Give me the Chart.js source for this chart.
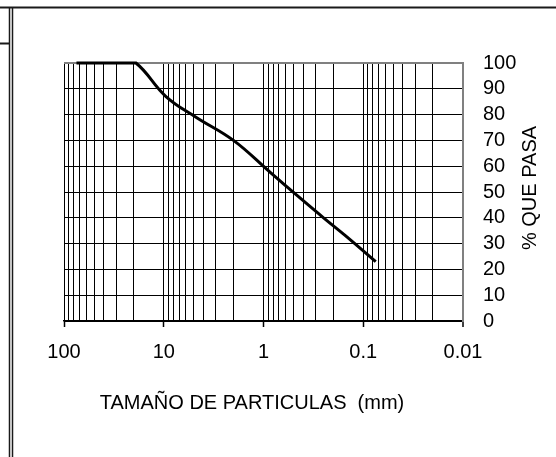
<!DOCTYPE html>
<html>
<head>
<meta charset="utf-8">
<script src="https://cdn.jsdelivr.net/npm/chart.js@4"></script>
<style>
  html, body { margin: 0; padding: 0; background: #fff; }
  #wrap { width: 556px; height: 457px; position: relative; }
</style>
</head>
<body>
<div id="wrap"><canvas id="chart" width="556" height="457"></canvas></div>
<script>
// grain size (mm) and percent passing
const SIZE_MM = [75, 50, 37.5, 25, 19, 9.5, 4.75, 2, 0.85, 0.425, 0.25, 0.15, 0.075];
const PCT_PASA = [100, 100, 100, 100, 100, 87, 79, 70, 57.5, 47.5, 40, 33, 23];

// log gridlines and the labelled decades
const X_TICKS = [
  0.01, 0.02, 0.03, 0.04, 0.05, 0.06, 0.07, 0.08, 0.09,
  0.1, 0.2, 0.3, 0.4, 0.5, 0.6, 0.7, 0.8, 0.9,
  1, 2, 3, 4, 5, 6, 7, 8, 9,
  10, 20, 30, 40, 50, 60, 70, 80, 90,
  100
];
const X_LABELS = ["0.01", "0.1", "1", "10", "100"];
const Y_TICKS = [0, 10, 20, 30, 40, 50, 60, 70, 80, 90, 100];

const X_TITLE = "TAMAÑO DE PARTICULAS  (mm)";
const Y_TITLE = "% QUE PASA";

const FONT = "Arial, 'Liberation Sans', sans-serif";
const GREY = "#808080";

Chart.defaults.font.family = FONT;
Chart.defaults.font.size = 20;
Chart.defaults.color = "#000";

function isDecade(value) {
  return X_LABELS.includes(String(value));
}

const framePlugin = {
  id: "frame",
  beforeDraw(chart) {
    const ctx = chart.ctx;
    ctx.save();
    ctx.fillStyle = "#fff";
    ctx.fillRect(0, 0, chart.width, chart.height);
    ctx.strokeStyle = "#1a1a1a";
    ctx.lineWidth = 2;
    ctx.beginPath();
    ctx.moveTo(0, 7.5);
    ctx.lineTo(chart.width, 7.5);
    ctx.moveTo(0, 43.5);
    ctx.lineTo(9, 43.5);
    ctx.stroke();
    ctx.lineWidth = 1.5;
    ctx.beginPath();
    ctx.moveTo(9.5, 7);
    ctx.lineTo(9.5, chart.height);
    ctx.moveTo(12.5, 7);
    ctx.lineTo(12.5, chart.height);
    ctx.stroke();
    ctx.restore();
  },
  afterDraw(chart) {
    const ctx = chart.ctx;
    ctx.save();
    ctx.fillStyle = "#000";
    ctx.font = "20px " + FONT;
    ctx.textAlign = "center";
    ctx.textBaseline = "middle";
    ctx.fillText(X_TITLE, 252, 403);
    ctx.translate(530, 188);
    ctx.rotate(-Math.PI / 2);
    ctx.fillText(Y_TITLE, 0, 0);
    ctx.restore();
  }
};

new Chart(document.getElementById("chart"), {
  type: "line",
  data: {
    datasets: [
      {
        data: SIZE_MM.map((d, i) => ({ x: d, y: PCT_PASA[i] })),
        borderColor: "#000",
        borderWidth: 3,
        pointRadius: 0,
        tension: 0.4,
        fill: false,
        clip: false
      }
    ]
  },
  options: {
    responsive: false,
    animation: false,
    events: [],
    layout: { padding: { left: 64, top: 63, right: 0, bottom: 0 } },
    plugins: {
      legend: { display: false },
      tooltip: { enabled: false }
    },
    scales: {
      x: {
        type: "logarithmic",
        reverse: true,
        min: 0.01,
        max: 100,
        afterBuildTicks(scale) {
          scale.ticks = X_TICKS.map((v) => ({ value: v, major: isDecade(v) }));
        },
        afterFit(scale) {
          scale.height = 457 - 321;
        },
        ticks: {
          autoSkip: false,
          maxRotation: 0,
          padding: 13,
          callback: (value) => (isDecade(value) ? String(value) : "")
        },
        grid: {
          color: (ctx) => (ctx.tick && ctx.tick.value === 0.01 ? GREY : "#000"),
          lineWidth: (ctx) => (ctx.tick && ctx.tick.value === 0.01 ? 2 : 1),
          tickColor: (ctx) => (ctx.tick && isDecade(ctx.tick.value) ? "#000" : "rgba(0,0,0,0)"),
          tickLength: 6,
          tickWidth: 1.5
        },
        border: { color: "#000", width: 1.5 }
      },
      y: {
        position: "right",
        min: 0,
        max: 100,
        afterBuildTicks(scale) {
          scale.ticks = Y_TICKS.map((v) => ({ value: v }));
        },
        afterFit(scale) {
          scale.width = 556 - 463;
        },
        ticks: {
          autoSkip: false,
          padding: 20,
          callback: (value) => String(value)
        },
        grid: {
          drawTicks: false,
          color: (ctx) => (ctx.tick && ctx.tick.value === 100 ? GREY : "#000"),
          lineWidth: (ctx) => (ctx.tick && ctx.tick.value === 100 ? 2 : 1)
        },
        border: { color: GREY, width: 2 }
      }
    }
  },
  plugins: [framePlugin]
});
</script>
</body>
</html>
